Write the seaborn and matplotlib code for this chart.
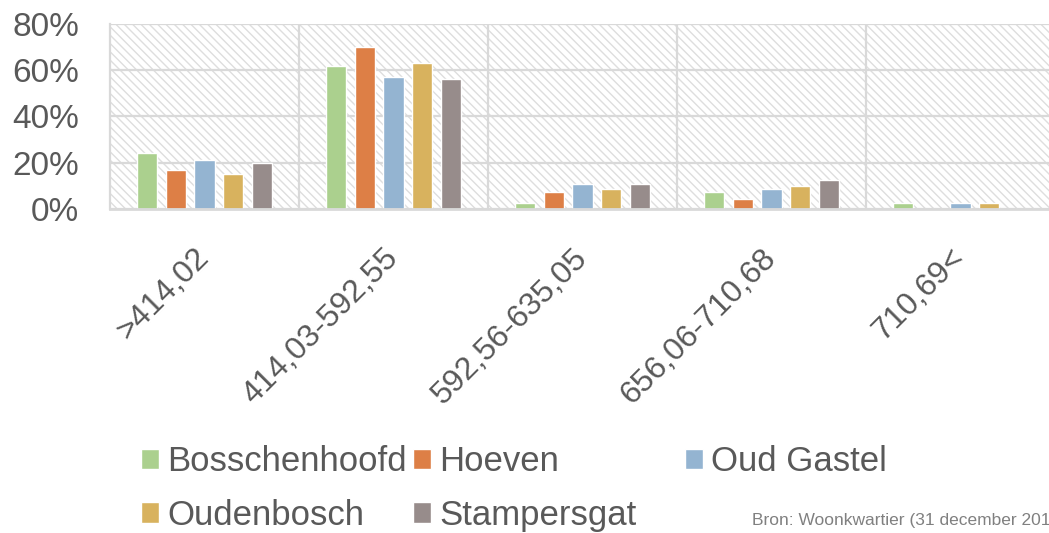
import pandas as pd
import numpy as np
import matplotlib.pyplot as plt
import seaborn as sns
from matplotlib.patches import Rectangle

# data (in %)
categories = ['>414,02', '414,03-592,55', '592,56-635,05', '656,06-710,68', '710,69<']
places = ['Bosschenhoofd', 'Hoeven', 'Oud Gastel', 'Oudenbosch', 'Stampersgat']
bosschenhoofd = [24, 62, 2.5, 7.5, 2.5]
hoeven = [17, 70, 7.5, 4.5, 0]
oud_gastel = [21, 57, 11, 8.5, 2.5]
oudenbosch = [15, 63, 8.5, 10, 2.5]
stampersgat = [20, 56, 11, 12.5, 0]
y_ticks = [0, 20, 40, 60, 80]
source = 'Bron: Woonkwartier (31 december 201'

colors = ['#abd08e', '#dd7f46', '#94b4d1', '#d8b25e', '#978c8b']
txt = '#595959'
grid = '#d9d9d9'

series = [bosschenhoofd, hoeven, oud_gastel, oudenbosch, stampersgat]
df = pd.DataFrame({
    'klasse': categories * len(places),
    'plaats': [p for p in places for _ in categories],
    'aandeel': [v for s in series for v in s],
})

sns.set_style('white')
plt.rcParams['font.family'] = ['Liberation Sans', 'DejaVu Sans']

fig = plt.figure(figsize=(10.49, 5.33), dpi=100)
ax = fig.add_axes([110 / 1049, 1 - 209 / 533, 945 / 1049, 185 / 533])

# hatched plot background
ax.add_patch(Rectangle((0, 0), 1, 1, transform=ax.transAxes, facecolor='white',
                       edgecolor='#dedede', hatch='\\\\\\\\', lw=0, zorder=0))

sns.barplot(data=df, x='klasse', y='aandeel', hue='plaats', order=categories,
            hue_order=places, palette=colors, width=0.76, gap=0.3,
            saturation=1, ax=ax, zorder=2)

h, l = ax.get_legend_handles_labels()
ax.get_legend().remove()

ax.set_xlim(-0.5, 4.5)
ax.set_ylim(0, 80)
ax.set_yticks(y_ticks)
ax.set_yticklabels([f'{t}%' for t in y_ticks])
ax.set_axisbelow(True)
ax.yaxis.grid(True, color=grid, lw=1.6)
for x in np.arange(0.5, 4.5, 1):
    ax.axvline(x, color=grid, lw=1.6, zorder=0.6)

for s in ['top', 'right']:
    ax.spines[s].set_visible(False)
ax.spines['left'].set_color(grid)
ax.spines['left'].set_linewidth(1.6)
ax.spines['bottom'].set_color(grid)
ax.spines['bottom'].set_linewidth(2)

ax.set_xlabel('')
ax.set_ylabel('')
ax.tick_params(axis='y', length=0, pad=22, labelsize=24, labelcolor=txt)
ax.tick_params(axis='x', length=0, pad=32, labelsize=23, labelcolor=txt)
ax.set_xticks(range(len(categories)))
ax.set_xticklabels(categories, rotation=45, ha='right', va='center',
                   rotation_mode='anchor')

# legend laid out in three fixed columns like the original
cols = [([0, 3], 141), ([1, 4], 413), ([2], 685)]
for idx, xpos in cols:
    leg = fig.legend([h[i] for i in idx], [l[i] for i in idx],
                     loc='upper left', bbox_to_anchor=(xpos / 1049, 1 - 445 / 533),
                     frameon=False, fontsize=25, handlelength=0.52,
                     handleheight=0.52, handletextpad=0.23, labelspacing=0.6,
                     borderpad=0, borderaxespad=0)
    for t in leg.get_texts():
        t.set_color(txt)

fig.text(752 / 1049, 1 - 520 / 533, source, fontsize=12.5, color='#808080',
         va='center', ha='left')

fig.savefig('out.png', dpi=100)
